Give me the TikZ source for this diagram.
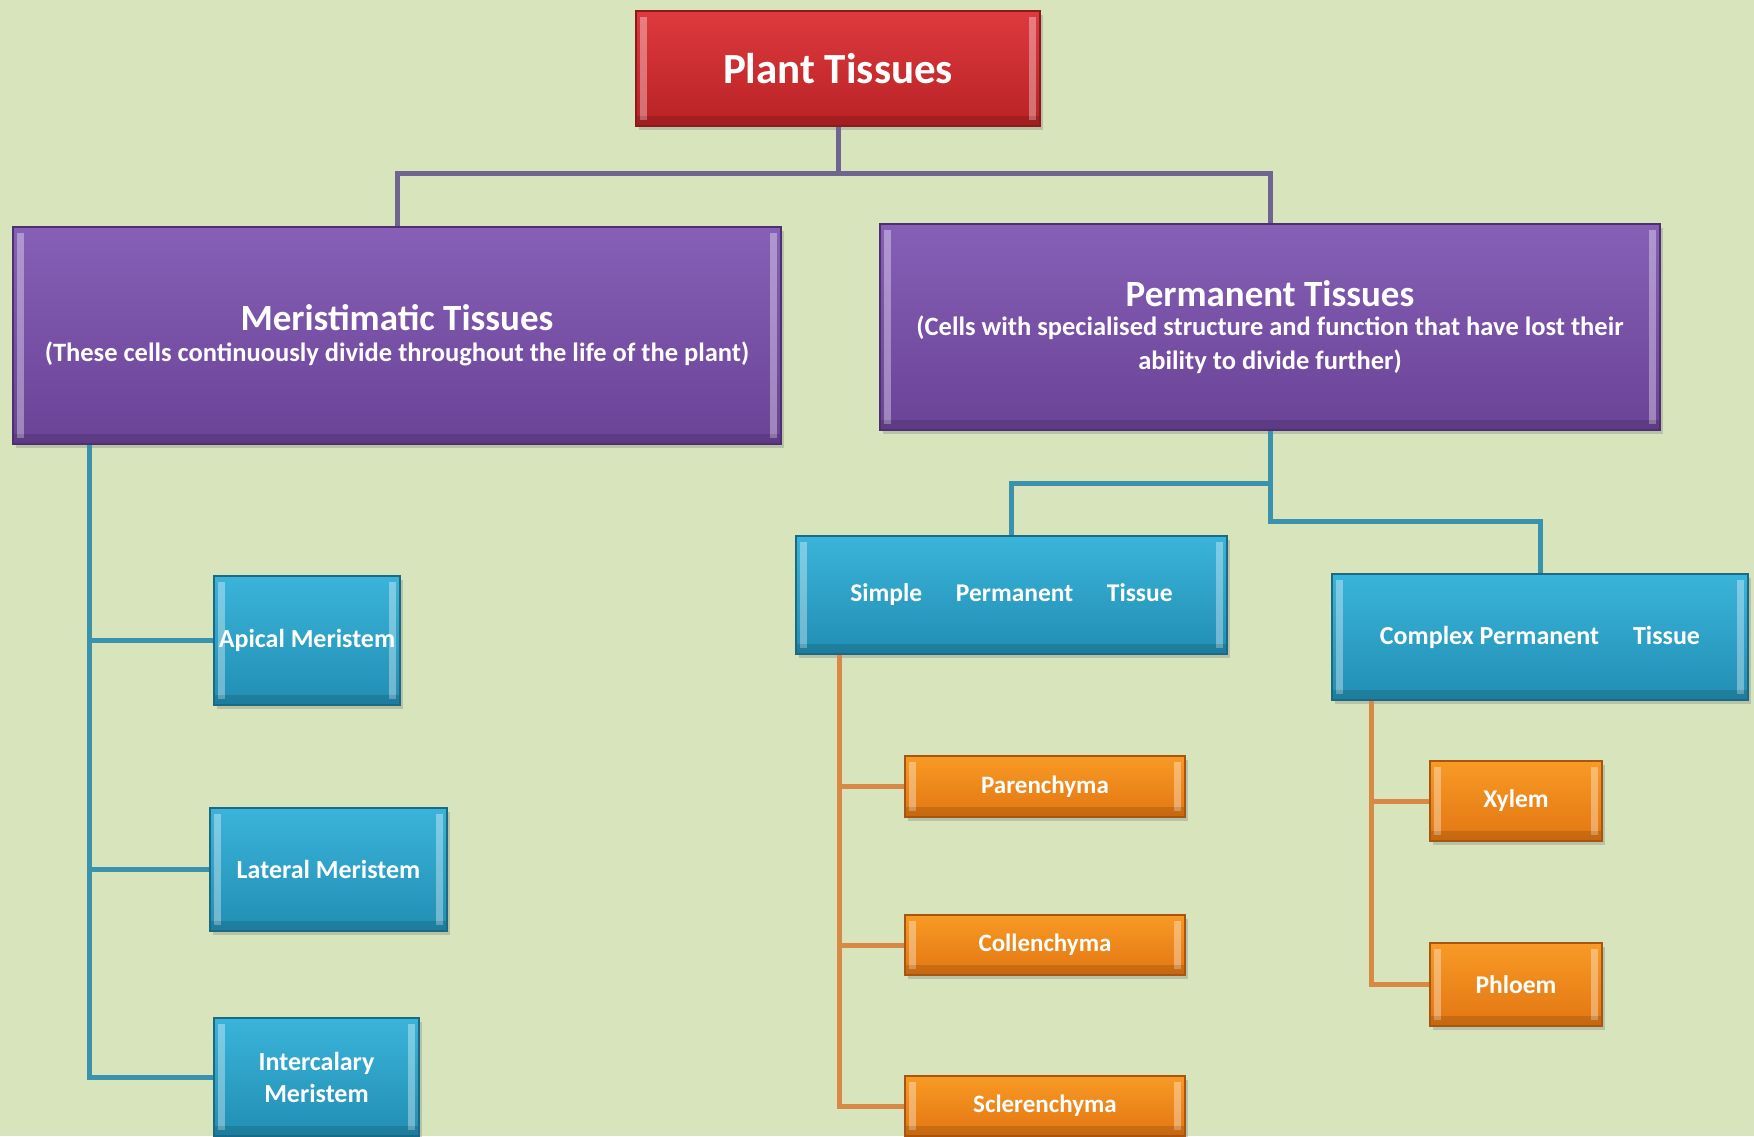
\documentclass[tikz,border=0pt]{standalone}
\usepackage{fontspec}
\setmainfont{Carlito}
\usetikzlibrary{shadows}
\definecolor{bg}{HTML}{D8E4BC}
\definecolor{redT}{HTML}{DE3A3D}
\definecolor{redB}{HTML}{B82225}
\definecolor{redD}{HTML}{8A1B1D}
\definecolor{purT}{HTML}{8660B6}
\definecolor{purB}{HTML}{6A4397}
\definecolor{purD}{HTML}{4E3071}
\definecolor{bluT}{HTML}{3AB4DA}
\definecolor{bluB}{HTML}{228EB3}
\definecolor{bluD}{HTML}{1A6985}
\definecolor{oraT}{HTML}{F89A25}
\definecolor{oraB}{HTML}{E27612}
\definecolor{oraD}{HTML}{A8560F}
\definecolor{lnTop}{HTML}{6E6690}
\definecolor{lnBlue}{HTML}{3A92AD}
\definecolor{lnOra}{HTML}{D88945}
\tikzset{
  bevel/.style={path picture={
    \fill[white,opacity=.35] ([xshift=4pt,yshift=-6pt]path picture bounding box.north west) rectangle ([xshift=11pt,yshift=6pt]path picture bounding box.south west);
    \fill[white,opacity=.35] ([xshift=-11pt,yshift=-6pt]path picture bounding box.north east) rectangle ([xshift=-4pt,yshift=6pt]path picture bounding box.south east);
    \fill[black,opacity=.12] ([yshift=10pt]path picture bounding box.south west) rectangle (path picture bounding box.south east);
  }},
  basebox/.style={rectangle, line width=2pt, inner sep=0pt, align=center, text=white,
    bevel, drop shadow={shadow xshift=3pt, shadow yshift=-4pt, opacity=.35}},
  redbox/.style={basebox, draw=redD, top color=redT, bottom color=redB},
  purplebox/.style={basebox, draw=purD, top color=purT, bottom color=purB},
  bluebox/.style={basebox, draw=bluD, top color=bluT, bottom color=bluB},
  orangebox/.style={basebox, draw=oraD, top color=oraT, bottom color=oraB},
  conntop/.style={draw=lnTop, line width=5pt},
  connblue/.style={draw=lnBlue, line width=5pt},
  connora/.style={draw=lnOra, line width=5pt},
}
\begin{document}
\begin{tikzpicture}[x=1pt,y=-1pt]
\fill[bg] (0,0) rectangle (1754,1136);
\useasboundingbox (0,0) rectangle (1754,1136);

\coordinate (h1) at (0,173);
\coordinate (hs) at (0,483);
\coordinate (hc) at (0,521);
\coordinate (mv) at (89,0);
\coordinate (sv) at (839,0);
\coordinate (cv) at (1371,0);

% nodes
\node[redbox, font=\bfseries\fontsize{43}{48}\selectfont, minimum width=404pt, minimum height=115pt] (PT) at (838,68.5)
  {Plant Tissues};
\node[purplebox, font=\bfseries, minimum width=768pt, minimum height=217pt] (Mer) at (397,335.5)
  {\fontsize{37}{40}\selectfont Meristimatic Tissues\\[10pt]
   \fontsize{26.5}{30}\selectfont (These cells continuously divide throughout the life of the plant)};
\node[purplebox, font=\bfseries, minimum width=780pt, minimum height=206pt] (Perm) at (1270,327)
  {\fontsize{37}{40}\selectfont Permanent Tissues\\[8pt]
   \fontsize{26.5}{30}\selectfont (Cells with specialised structure and function that have lost their\\[9pt]
   \fontsize{26.5}{30}\selectfont ability to divide further)};

\node[bluebox, font=\bfseries\fontsize{26}{30}\selectfont, minimum width=186pt, minimum height=129pt] (Apical) at (307,640.5)
  {Apical Meristem};
\node[bluebox, font=\bfseries\fontsize{26}{30}\selectfont, minimum width=237pt, minimum height=123pt] (Lateral) at (328.5,869.5)
  {Lateral Meristem};
\node[bluebox, font=\bfseries\fontsize{26}{32}\selectfont, minimum width=205pt, minimum height=118pt] (Inter) at (316.5,1077)
  {Intercalary\\ Meristem};

\node[bluebox, font=\bfseries\fontsize{25.5}{30}\selectfont, minimum width=431pt, minimum height=118pt] (Simple) at (1011.5,595)
  {Simple\hspace{28pt} Permanent\hspace{28pt} Tissue};
\node[bluebox, font=\bfseries\fontsize{26}{30}\selectfont, minimum width=416pt, minimum height=126pt] (Complex) at (1540,637)
  {Complex Permanent\hspace{28pt} Tissue};

\node[orangebox, font=\bfseries\fontsize{25}{28}\selectfont, minimum width=280pt, minimum height=61pt] (Paren) at (1045,786.5)
  {Parenchyma};
\node[orangebox, font=\bfseries\fontsize{25}{28}\selectfont, minimum width=280pt, minimum height=60pt] (Collen) at (1045,945)
  {Collenchyma};
\node[orangebox, font=\bfseries\fontsize{25}{28}\selectfont, minimum width=280pt, minimum height=60pt] (Scler) at (1045,1106)
  {Sclerenchyma};
\node[orangebox, font=\bfseries\fontsize{25.5}{28}\selectfont, minimum width=172pt, minimum height=80pt] (Xylem) at (1516,801)
  {Xylem};
\node[orangebox, font=\bfseries\fontsize{25.5}{28}\selectfont, minimum width=172pt, minimum height=83pt] (Phloem) at (1516,984.5)
  {Phloem};

% connectors
\draw[conntop] (PT.south) -- (PT.south |- h1) -| (Mer.north);
\draw[conntop] (PT.south |- h1) -| (Perm.north);

\draw[connblue] (mv |- Mer.south) -- (mv |- Inter.west) -- (Inter.west);
\draw[connblue] (mv |- Apical.west) -- (Apical.west);
\draw[connblue] (mv |- Lateral.west) -- (Lateral.west);

\draw[connblue] (Perm.south) -- (Perm.south |- hs) -| (Simple.north);
\draw[connblue] (Perm.south |- hs) -- (Perm.south |- hc) -| (Complex.north);

\draw[connora] (sv |- Simple.south) -- (sv |- Scler.west) -- (Scler.west);
\draw[connora] (sv |- Paren.west) -- (Paren.west);
\draw[connora] (sv |- Collen.west) -- (Collen.west);

\draw[connora] (cv |- Complex.south) -- (cv |- Phloem.west) -- (Phloem.west);
\draw[connora] (cv |- Xylem.west) -- (Xylem.west);
\end{tikzpicture}
\end{document}
